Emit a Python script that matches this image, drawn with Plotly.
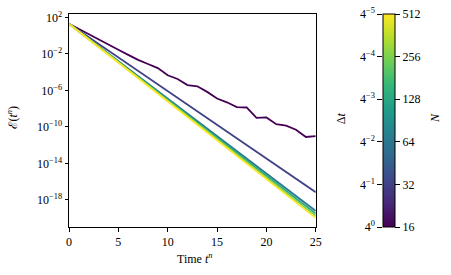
import plotly.graph_objects as go
from plotly.colors import sample_colorscale
import math

# ---- data ----
N_values = [16, 32, 64, 128, 256, 512]
dt_exponents = [0, -1, -2, -3, -4, -5]          # dt = 4^k

t_N16 = list(range(26))
err_N16 = [2.0e1, 5.2e0, 1.5e0, 4.0e-1, 1.1e-1, 2.8e-2, 7.9e-3, 2.2e-3, 7.9e-4,
           2.8e-4, 4.5e-5, 1.8e-5, 3.8e-6, 2.8e-6, 6.9e-7, 1.3e-7, 5.0e-8,
           1.5e-8, 1.35e-8, 1.0e-9, 1.1e-9, 2.0e-10, 1.4e-10, 5.0e-11,
           7.9e-12, 1.0e-11]

t_line = [0, 25]
err_N32 = [2.0e1, 7.0e-18]
err_N64 = [2.0e1, 6.3e-20]
err_N128 = [2.0e1, 3.2e-20]
err_N256 = [2.0e1, 1.8e-20]
err_N512 = [2.0e1, 1.1e-20]

series = [
    (16, t_N16, err_N16),
    (32, t_line, err_N32),
    (64, t_line, err_N64),
    (128, t_line, err_N128),
    (256, t_line, err_N256),
    (512, t_line, err_N512),
]

y_tick_exps = [2, -2, -6, -10, -14, -18]
x_ticks = [0, 5, 10, 15, 20, 25]

FONT = "Liberation Serif"
FS = 12
W, H = 451, 275
ml, mr, mt, mb = 68.67, 51, 14, 48.3
pw = W - ml - mr
ph = H - mt - mb
main_right = 247 / pw
cb_left = (383.3 - ml) / pw
cb_right = (395.7 - ml) / pw

lo, hi = math.log2(N_values[0]), math.log2(N_values[-1])

fig = go.Figure()
for N, t, e in series:
    c = sample_colorscale("Viridis", [(math.log2(N) - lo) / (hi - lo)])[0]
    fig.add_trace(go.Scatter(x=t, y=e, mode="lines",
                             line=dict(color=c, width=1.8),
                             showlegend=False, hoverinfo="skip"))

# colorbar carrier (invisible markers on the colorbar axis)
fig.add_trace(go.Scatter(
    x=[0.5] * len(N_values), y=[-k for k in dt_exponents],
    xaxis="x2", yaxis="y3", mode="markers",
    marker=dict(color=[math.log2(n) for n in N_values], colorscale="Viridis",
                cmin=lo, cmax=hi, opacity=0, size=1,
                colorbar=dict(
                    x=cb_left, xanchor="left", xpad=0, thickness=cb_right * pw - cb_left * pw,
                    thicknessmode="pixels", len=1, lenmode="fraction",
                    y=0, yanchor="bottom", ypad=0,
                    outlinewidth=1, outlinecolor="black",
                    tickvals=[math.log2(n) for n in N_values],
                    ticktext=[str(n) for n in N_values],
                    ticks="outside", ticklen=5, tickcolor="black",
                    tickfont=dict(family=FONT, size=FS, color="black"),
                )),
    showlegend=False, hoverinfo="skip"))


def px2paper(px, py):
    return (px - ml) / pw, 1 - (py - mt) / ph


ann = []
for text, px, py, ang in [("Time <i>t</i><sup><i>n</i></sup>", 194, 258, 0),
                          ("<span style=\"font-family:'DejaVu Serif'\">\u2130</span>(<i>t</i><sup><i>n</i></sup>)", 12, 117, -90),
                          ("\u0394<i>t</i>", 341, 118, -90),
                          ("<i>N</i>", 435, 118, -90)]:
    x, y = px2paper(px, py)
    ann.append(dict(text=text, x=x, y=y, xref="paper", yref="paper", textangle=ang,
                    xanchor="center", yanchor="middle",
                    showarrow=False, font=dict(family=FONT, size=FS)))

fig.update_layout(
    width=W, height=H,
    margin=dict(l=ml, r=mr, t=mt, b=mb, autoexpand=False),
    paper_bgcolor="white", plot_bgcolor="white",
    font=dict(family=FONT, size=FS, color="black"),
    xaxis=dict(domain=[0, main_right], range=[0, 25], automargin=False,
               tickvals=x_ticks, ticks="outside", ticklen=3.5, tickcolor="black",
               showline=True, linecolor="black", linewidth=1, mirror=True,
               showgrid=False, zeroline=False),
    yaxis=dict(type="log", range=[-20.96, 2.37], automargin=False,
               tickvals=[10.0 ** k for k in y_tick_exps],
               ticktext=["10<sup>%s</sup>" % (str(k).replace("-", "\u2212")) for k in y_tick_exps],
               ticks="outside", ticklen=3.5, tickcolor="black",
               showline=True, linecolor="black", linewidth=1, mirror=True,
               showgrid=False, zeroline=False),
    xaxis2=dict(domain=[cb_left, cb_right], range=[0, 1], anchor="y3", automargin=False,
                showticklabels=False, ticks="", showline=False, showgrid=False, zeroline=False),
    yaxis3=dict(anchor="x2", range=[0, 5], side="left", automargin=False,
                tickvals=[-k for k in dt_exponents],
                ticktext=["4<sup>%s</sup>" % (str(k).replace("-", "\u2212")) for k in dt_exponents],
                ticks="outside", ticklen=5, tickcolor="black",
                showline=False, showgrid=False, zeroline=False),
    annotations=ann,
)

fig.write_html("out.html", config={"displayModeBar": False},
               post_script="document.body.style.margin='0';document.body.style.padding='0';")
